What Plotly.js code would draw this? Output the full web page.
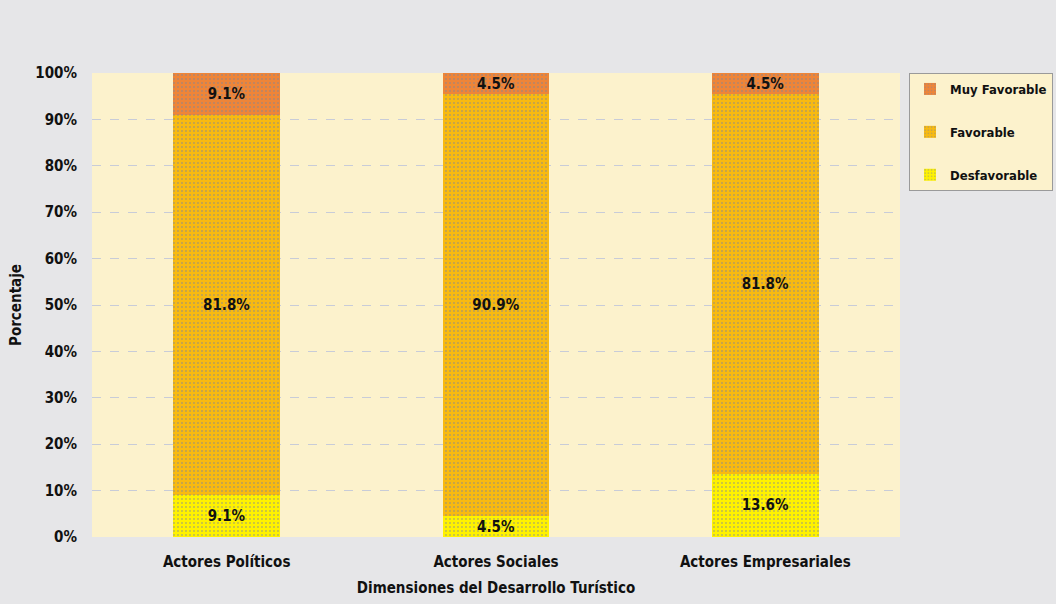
<!DOCTYPE html>
<html><head><meta charset="utf-8">
<script src="https://cdn.plot.ly/plotly-3.0.1.min.js"></script>
<style>body{margin:0;background:#e6e6e8;}#chart{width:1056px;height:604px;}</style>
</head><body><div id="chart"></div>
<script>
const categories = ['Actores Políticos', 'Actores Sociales', 'Actores Empresariales'];
const desfavorable = [9.1, 4.5, 13.6];
const favorable = [81.8, 90.9, 81.8];
const muyFavorable = [9.1, 4.5, 4.5];
const yTicks = [0,10,20,30,40,50,60,70,80,90,100];
const yTickLabels = yTicks.map(v => v + '%');

const FONT = '"Liberation Sans Narrow", "DejaVu Sans Condensed", "Liberation Sans", Arial, sans-serif';

function mk(name, vals, color, rank) {
  return {
    type: 'bar', name: name, x: categories, y: vals,
    legendrank: rank, legendgroup: 'g' + rank,
    marker: {color: color, line: {width: 0},
      pattern: {shape: '.', fgcolor: '#7a84a0', bgcolor: color, fillmode: 'replace', size: 4, solidity: 0.1}},
    texttemplate: '<b>%{y:.1f}%</b>', textposition: 'inside', insidetextanchor: 'middle',
    constraintext: 'none', textangle: 0,
    textfont: {family: FONT, size: 15, color: '#111'},
    hoverinfo: 'skip', width: 0.395
  };
}

const data = [
  mk('Desfavorable', desfavorable, '#FFF200', 3),
  mk('Favorable', favorable, '#F8BA10', 2),
  mk('Muy Favorable', muyFavorable, '#EE8538', 1)
];

const layout = {
  width: 1056, height: 604,
  margin: {l: 92, r: 156, t: 73, b: 67},
  paper_bgcolor: '#e6e6e8', plot_bgcolor: '#FCF2CC',
  barmode: 'stack',
  uniformtext: {mode: 'show', minsize: 15},
  showlegend: true,
  legend: {xref: 'container', yref: 'container', x: 909 / 1056, y: 1 - 73 / 604,
    xanchor: 'left', yanchor: 'top',
    bgcolor: '#FCF2CC', bordercolor: '#9a9a9a', borderwidth: 1,
    traceorder: 'grouped', tracegroupgap: 23,
    font: {family: FONT, size: 13, color: '#111', weight: 'bold'}, itemwidth: 30},
  xaxis: {showgrid: false, zeroline: false, showline: false, ticks: '',
    ticklabelstandoff: 14,
    tickvals: categories, ticktext: categories.map(c => '<b>' + c + '</b>'),
    tickfont: {family: FONT, size: 15, color: '#111'},
    title: {text: '<b>Dimensiones del Desarrollo Turístico</b>', font: {family: FONT, size: 15, color: '#111'}, standoff: 12}},
  yaxis: {range: [0, 100], tickvals: yTicks, ticktext: yTickLabels.map(t => '<b>' + t + '</b>'),
    showgrid: true, gridcolor: '#c8ccd8', griddash: 'dash', gridwidth: 1,
    zeroline: false, showline: false, ticks: '',
    ticklabelstandoff: 14,
    tickfont: {family: FONT, size: 15, color: '#111'},
    title: {text: '<b>Porcentaje</b>', font: {family: FONT, size: 15, color: '#111'}, standoff: 10}},
  font: {family: FONT}
};

Plotly.newPlot('chart', data, layout, {displayModeBar: false, staticPlot: true});
</script></body></html>
